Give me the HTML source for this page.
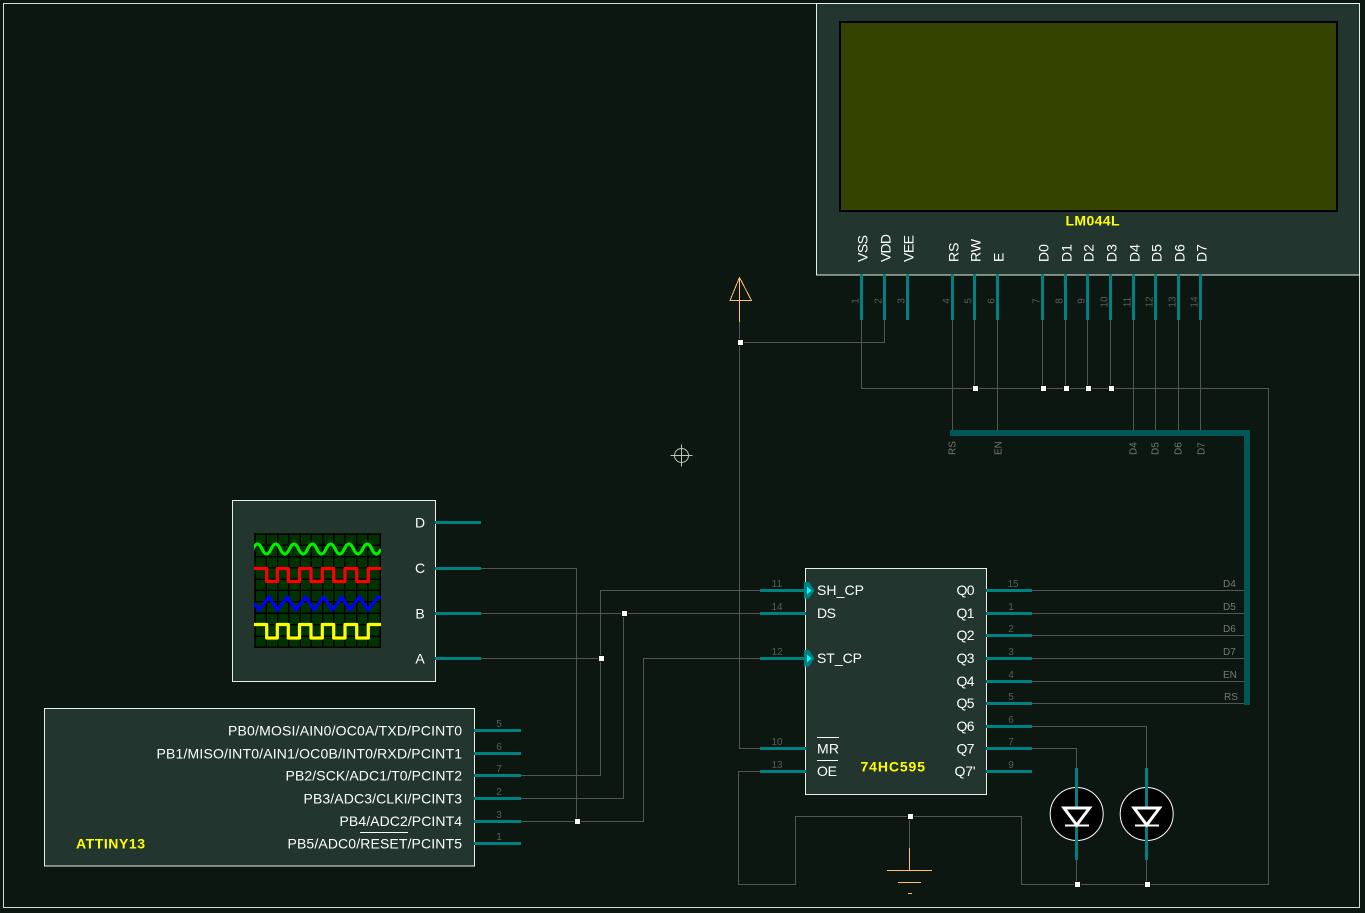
<!DOCTYPE html>
<html lang="en">
<head>
<meta charset="utf-8">
<title>ATTINY13 LCD schematic</title>
<style>
html,body{margin:0;padding:0;background:#0b1710;width:1365px;height:913px;overflow:hidden}
svg{display:block}
text{font-family:"Liberation Sans",sans-serif}
.w{fill:none;stroke:#555;stroke-width:1;shape-rendering:crispEdges}
.p{fill:none;stroke:#008080;stroke-width:3;shape-rendering:crispEdges}
.b{fill:#22352f;stroke:#e8efe8;stroke-width:1;shape-rendering:crispEdges}
.o{fill:none;stroke:#ffc070;stroke-width:1;shape-rendering:crispEdges}
.l{font-size:14px;fill:#fff}
.n{font-size:10px;fill:#5c5c5c;text-anchor:middle}
.t{font-size:10px;fill:#777}
.y{font-size:14px;font-weight:bold;fill:#ff0}
.j{fill:#fff;stroke:#0b1710;stroke-width:1;shape-rendering:crispEdges}
</style>
</head>
<body>
<svg width="1365" height="913" viewBox="0 0 1365 913" xmlns="http://www.w3.org/2000/svg">
<defs><clipPath id="scr"><rect x="254" y="533" width="127" height="115"/></clipPath></defs>
<rect x="3.5" y="3.5" width="1356" height="904" fill="#0b1710" stroke="#cfdcd0" stroke-width="1" shape-rendering="crispEdges"/>

<!-- LCD -->
<rect class="b" x="816.5" y="3.5" width="543" height="271.5"/>
<rect x="840" y="22" width="497" height="189" fill="#344400" stroke="#000" stroke-width="2" shape-rendering="crispEdges"/>
<text class="y" x="1065.5" y="225.5" textLength="54">LM044L</text>

<!-- wires -->
<path class="w" d="M739.5 322V748.5H760M739.5 342.5H884.5V320"/>
<path class="w" d="M861.5 320V388.5H1268.5V884.5H1021.5V816.5H795.5V884.5H738.5V771.5H760"/>
<path class="w" d="M974.5 320V388M1042.5 320V388M1065.5 320V388M1087.5 320V388M1110.5 320V388"/>
<path class="w" d="M952.5 320V433M997.5 320V433M1133.5 320V433M1155.5 320V433M1178.5 320V433M1200.5 320V433"/>
<path class="w" d="M481 568.5H576.5V821.5M521 821.5H643.5V658.5H760"/>
<path class="w" d="M481 658.5H600.5M521 775.5H600.5V590.5H760"/>
<path class="w" d="M481 613.5H760M521 798.5H623.5V613.5"/>
<path class="w" d="M1032 590.5H1247M1032 613.5H1247M1032 635.5H1247M1032 658.5H1247M1032 681.5H1247M1032 703.5H1247"/>
<path class="w" d="M1032 726.5H1146.5V768M1032 748.5H1076.5V768M1076.5 860V884M1146.5 860V884"/>
<path class="w" d="M909.5 816V848"/>

<!-- bus -->
<path d="M950 433H1247V705" fill="none" stroke="#005757" stroke-width="6" shape-rendering="crispEdges"/>

<!-- LCD pins -->
<path class="p" d="M861.5 274V320M884.5 274V320M907.5 274V320M952.5 274V320M974.5 274V320M997.5 274V320M1042.5 274V320M1065.5 274V320M1087.5 274V320M1110.5 274V320M1133.5 274V320M1155.5 274V320M1178.5 274V320M1200.5 274V320"/>
<text class="l" transform="translate(867.500 262) rotate(-90)" textLength="27">VSS</text>
<text class="l" transform="translate(890.500 262) rotate(-90)" textLength="28">VDD</text>
<text class="l" transform="translate(913.500 262) rotate(-90)" textLength="27">VEE</text>
<text class="l" transform="translate(958.500 262) rotate(-90)">RS</text>
<text class="l" transform="translate(980.500 262) rotate(-90)">RW</text>
<text class="l" transform="translate(1003.500 262) rotate(-90)">E</text>
<text class="l" transform="translate(1048.500 262) rotate(-90)">D0</text>
<text class="l" transform="translate(1071.500 262) rotate(-90)">D1</text>
<text class="l" transform="translate(1093.500 262) rotate(-90)">D2</text>
<text class="l" transform="translate(1116.500 262) rotate(-90)">D3</text>
<text class="l" transform="translate(1139.500 262) rotate(-90)">D4</text>
<text class="l" transform="translate(1161.500 262) rotate(-90)">D5</text>
<text class="l" transform="translate(1184.500 262) rotate(-90)">D6</text>
<text class="l" transform="translate(1206.500 262) rotate(-90)">D7</text>
<text class="n" transform="translate(858.5 301) rotate(-90)">1</text>
<text class="n" transform="translate(881.5 301) rotate(-90)">2</text>
<text class="n" transform="translate(904.5 301) rotate(-90)">3</text>
<text class="n" transform="translate(949.5 301) rotate(-90)">4</text>
<text class="n" transform="translate(971.5 301) rotate(-90)">5</text>
<text class="n" transform="translate(994.5 301) rotate(-90)">6</text>
<text class="n" transform="translate(1039.5 301) rotate(-90)">7</text>
<text class="n" transform="translate(1062.5 301) rotate(-90)">8</text>
<text class="n" transform="translate(1084.5 301) rotate(-90)">9</text>
<text class="n" transform="translate(1107.5 302) rotate(-90)">10</text>
<text class="n" transform="translate(1130.5 302) rotate(-90)">11</text>
<text class="n" transform="translate(1152.5 302) rotate(-90)">12</text>
<text class="n" transform="translate(1175.5 302) rotate(-90)">13</text>
<text class="n" transform="translate(1197.5 302) rotate(-90)">14</text>

<!-- bus labels -->
<text class="t" transform="translate(955.5 455) rotate(-90)">RS</text>
<text class="t" transform="translate(1001.5 455) rotate(-90)">EN</text>
<text class="t" transform="translate(1136.5 455) rotate(-90)">D4</text>
<text class="t" transform="translate(1158.5 455) rotate(-90)">D5</text>
<text class="t" transform="translate(1181.5 455) rotate(-90)">D6</text>
<text class="t" transform="translate(1204.5 455) rotate(-90)">D7</text>

<text class="t" x="1223" y="587">D4</text>
<text class="t" x="1223" y="610">D5</text>
<text class="t" x="1223" y="632">D6</text>
<text class="t" x="1223" y="655">D7</text>
<text class="t" x="1223" y="678">EN</text>
<text class="t" x="1224" y="700">RS</text>

<!-- power terminal -->
<path class="o" d="M730 300.500H751.500L739.500 277.500ZM739.500 277V322" stroke-linejoin="round"/>

<!-- crosshair -->
<g fill="none" stroke="#bccabc" stroke-width="1">
<circle cx="681.5" cy="455.5" r="7"/>
<path d="M670.5 455.5H692.5M681.5 444.5V466.5" shape-rendering="crispEdges"/>
</g>

<!-- ground -->
<path class="o" d="M909.5 848V870M887 870.5H932M898 882.5H921M908 893.5H912"/>

<!-- Scope -->
<rect class="b" x="232.5" y="500.5" width="203" height="181"/>
<path class="p" d="M435 522.5H481M435 568.5H481M435 613.5H481M435 658.5H481"/>
<text class="l" x="420" y="527.5" text-anchor="middle">D</text>
<text class="l" x="420" y="573" text-anchor="middle">C</text>
<text class="l" x="420" y="618.5" text-anchor="middle">B</text>
<text class="l" x="420" y="663.5" text-anchor="middle">A</text>
<rect x="254" y="533" width="127" height="115" fill="#003300"/>
<path d="M255 533V648M266 533V648M277.500 533V648M288.500 533V648M300 533V648M311 533V648M322.500 533V648M333.500 533V648M344.500 533V648M356.500 533V648M367.500 533V648M380 533V648M254 534H381M254 545H381M254 556.500H381M254 567.500H381M254 579H381M254 590H381M254 601.500H381M254 613H381M254 624.500H381M254 636H381M254 647H381" fill="none" stroke="#000" stroke-width="1.500" shape-rendering="crispEdges"/>
<g clip-path="url(#scr)" fill="none" stroke-width="3.200" stroke-linejoin="round">
<path d="M253 549Q257.500 539 262 549T271.150 549T280.300 549T289.450 549T298.600 549T307.750 549T316.900 549T326.050 549T335.200 549T344.350 549T353.500 549T362.650 549T371.800 549T381 549" stroke="#00f000"/>
<path d="M254 568.500H266.700V581.500H277.300V568.500H288.300V581.500H299.500V568.500H311V581.500H322.300V568.500H333.700V581.500H345V568.500H356.700V581.500H368.300V568.500H381" stroke="#f00"/>
<path d="M254 603L259 610L269 597L277.300 610L287.300 597L295.700 610L305.700 597L314 610L323.300 597L332.300 610L341.700 597L350 610L359.300 597L368 610L378 597L381 598" stroke="#00f"/>
<path d="M254 624.500H266.700V638H277.300V624.500H288.300V638H299.500V624.500H311V638H322.300V624.500H333.700V638H345V624.500H356.700V638H368.300V624.500H381" stroke="#ff0"/>
</g>

<!-- ATTINY13 -->
<rect class="b" x="44.500" y="708.500" width="430" height="157.500"/>
<path class="p" d="M474 730.500H521M474 753.500H521M474 775.500H521M474 798.500H521M474 821.500H521M474 843.500H521"/>
<text class="l" x="228" y="735.500" textLength="234">PB0/MOSI/AIN0/OC0A/TXD/PCINT0</text>
<text class="l" x="156.500" y="758.500" textLength="305.500">PB1/MISO/INT0/AIN1/OC0B/INT0/RXD/PCINT1</text>
<text class="l" x="285.500" y="780.500" textLength="176.500">PB2/SCK/ADC1/T0/PCINT2</text>
<text class="l" x="303.500" y="803.500" textLength="158.500">PB3/ADC3/CLKI/PCINT3</text>
<text class="l" x="339.500" y="826" textLength="122.500">PB4/ADC2/PCINT4</text>
<text class="l" x="287.500" y="848.500" textLength="174.500">PB5/ADC0/RESET/PCINT5</text>
<path d="M360 832.500H408" stroke="#fff" stroke-width="1" shape-rendering="crispEdges"/>
<text class="y" x="76" y="848.500" textLength="69">ATTINY13</text>
<text class="n" x="499" y="727">5</text>
<text class="n" x="499" y="750">6</text>
<text class="n" x="499" y="772">7</text>
<text class="n" x="499" y="795">2</text>
<text class="n" x="499" y="818">3</text>
<text class="n" x="499" y="840">1</text>

<!-- 74HC595 -->
<rect class="b" x="805.500" y="568.500" width="181" height="226"/>
<path class="p" d="M760 590.500H806M760 613.500H806M760 658.500H806M760 748.500H806M760 771.500H806"/>
<path class="p" d="M986 590.500H1032M986 613.500H1032M986 635.500H1032M986 658.500H1032M986 681.500H1032M986 703.500H1032M986 726.500H1032M986 748.500H1032M986 771.500H1032"/>
<path d="M804 582H809L814.500 590.500L809 598.500H804Z" fill="#008080"/>
<path d="M804 650H809L814.500 658.500L809 666.500H804Z" fill="#008080"/>
<path d="M807 586.500L811.500 590.500L807 594.500Z" fill="#0ff"/>
<path d="M807 654.500L811.500 658.500L807 662.500Z" fill="#0ff"/>
<text class="l" x="817" y="595" textLength="47">SH_CP</text>
<text class="l" x="817" y="618" textLength="19">DS</text>
<text class="l" x="817" y="663" textLength="45">ST_CP</text>
<text class="l" x="817" y="753.500" textLength="22">MR</text>
<text class="l" x="817" y="776" textLength="20">OE</text>
<path d="M817 737.500H839M817 760.500H838" stroke="#fff" stroke-width="1" shape-rendering="crispEdges"/>
<text class="l" x="956.500" y="595" textLength="18">Q0</text>
<text class="l" x="956.500" y="618" textLength="18">Q1</text>
<text class="l" x="956.500" y="640" textLength="18">Q2</text>
<text class="l" x="956.500" y="663" textLength="18">Q3</text>
<text class="l" x="956.500" y="686" textLength="18">Q4</text>
<text class="l" x="956.500" y="708" textLength="18">Q5</text>
<text class="l" x="956.500" y="731" textLength="18">Q6</text>
<text class="l" x="956.500" y="753.500" textLength="18">Q7</text>
<text class="l" x="954.500" y="776" textLength="21">Q7'</text>
<text class="y" x="860.500" y="771.500" textLength="64.500">74HC595</text>
<text class="n" x="777" y="587">11</text>
<text class="n" x="777" y="610">14</text>
<text class="n" x="777" y="655">12</text>
<text class="n" x="777" y="745">10</text>
<text class="n" x="777" y="768">13</text>
<text class="n" x="1013" y="587">15</text>
<text class="n" x="1011" y="610">1</text>
<text class="n" x="1011" y="632">2</text>
<text class="n" x="1011" y="655">3</text>
<text class="n" x="1011" y="678">4</text>
<text class="n" x="1011" y="700">5</text>
<text class="n" x="1011" y="723">6</text>
<text class="n" x="1011" y="745">7</text>
<text class="n" x="1011" y="768">9</text>

<!-- LEDs -->
<g>
<circle cx="1076.700" cy="814" r="26.500" fill="#000" stroke="#fff" stroke-width="1"/>
<path class="p" d="M1076.500 768V807M1076.500 825V860"/>
<path d="M1064 808H1089.500L1076.700 825Z" fill="none" stroke="#fff" stroke-width="3"/>
<path d="M1065 825.500H1089" stroke="#fff" stroke-width="2" shape-rendering="crispEdges"/>
<circle cx="1146.700" cy="814" r="26.500" fill="#000" stroke="#fff" stroke-width="1"/>
<path class="p" d="M1146.500 768V807M1146.500 825V860"/>
<path d="M1134 808H1159.500L1146.700 825Z" fill="none" stroke="#fff" stroke-width="3"/>
<path d="M1135 825.500H1159" stroke="#fff" stroke-width="2" shape-rendering="crispEdges"/>
</g>

<!-- junctions -->
<rect class="j" x="737.500" y="339.500" width="6" height="6"/>
<rect class="j" x="972.500" y="385.500" width="6" height="6"/>
<rect class="j" x="1040.500" y="385.500" width="6" height="6"/>
<rect class="j" x="1063.500" y="385.500" width="6" height="6"/>
<rect class="j" x="1085.500" y="385.500" width="6" height="6"/>
<rect class="j" x="1108.500" y="385.500" width="6" height="6"/>
<rect class="j" x="598.500" y="655.500" width="6" height="6"/>
<rect class="j" x="621.500" y="610.500" width="6" height="6"/>
<rect class="j" x="574.500" y="818.500" width="6" height="6"/>
<rect class="j" x="907.500" y="813.500" width="6" height="6"/>
<rect class="j" x="1074.500" y="881.500" width="6" height="6"/>
<rect class="j" x="1144.500" y="881.500" width="6" height="6"/>
</svg>
</body>
</html>
